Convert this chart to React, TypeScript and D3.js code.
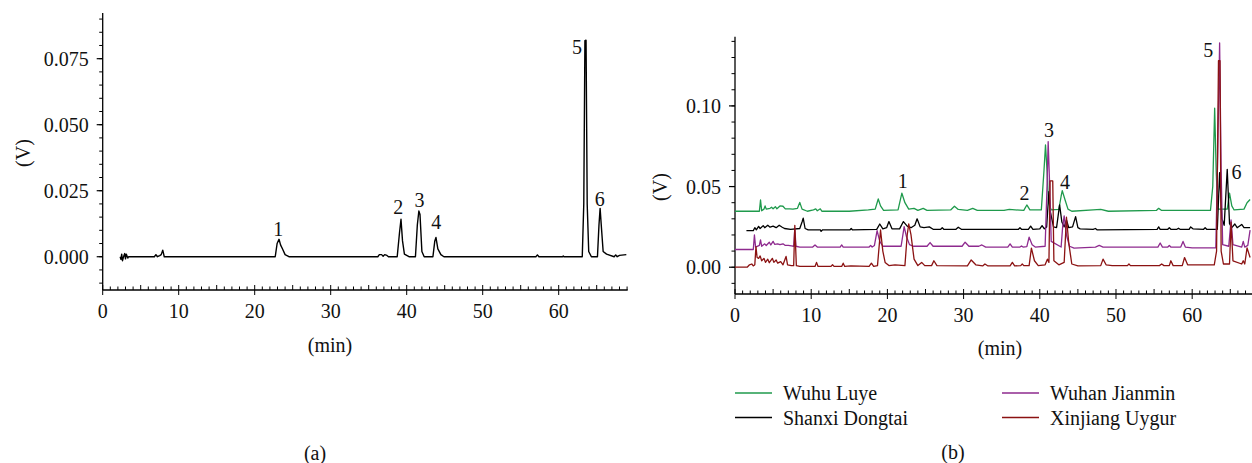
import React from "react";
import * as d3 from "d3";

type P = [number, number];

// ---------- Data (a) : reference standard chromatogram ----------
const standardSeries: P[] = [
  [2.3, 0], [2.4, -0.001], [2.5, 0.001], [2.6, -0.0015], [2.8, 0.0005], [2.9, 0.0012], [3.0, -0.0008], [3.1, 0.001], [3.3, -0.0005], [3.4, 0],
  [6.8, 0], [7.0, 0.0008], [7.2, 0], [7.5, 0.0004], [7.7, 0.0008], [7.9, 0.0025], [8.1, 0],
  [22.7, 0], [22.95, 0.005], [23.2, 0.0066], [23.4, 0.0045], [23.65, 0.003], [24.0, 0.0008], [24.5, 0],
  [36.2, 0], [36.4, 0.0008], [36.7, 0.0008], [36.9, 0.0002], [37.1, 0.0008], [37.4, 0.0005], [37.6, 0],
  [38.75, 0], [39.05, 0.009], [39.25, 0.0142], [39.45, 0.006], [39.7, 0.001], [40.0, 0.0005], [40.3, 0],
  [41.15, 0], [41.4, 0.012], [41.6, 0.0173], [41.75, 0.016], [42.0, 0.002], [42.3, 0],
  [43.45, 0], [43.7, 0.006], [43.85, 0.0073], [44.1, 0.003], [44.5, 0.0008], [44.9, 0],
  [57.0, 0], [57.2, 0.0007], [57.4, 0],
  [60.5, 0], [60.6, 0.0003], [60.7, 0],
  [63.1, 0], [63.3, 0.02], [63.45, 0.0818], [63.6, 0.082], [63.75, 0.02], [63.95, 0.002], [64.3, 0],
  [65.1, 0], [65.3, 0.012], [65.45, 0.0183], [65.6, 0.012], [65.85, 0.002], [66.3, 0.001], [67.3, 0], [67.5, 0.0007], [67.7, 0], [68.0, 0.0005], [68.9, 0.0008],
];
const standardLabels: { t: string; x: number; y: number }[] = [
  { t: "1", x: 23.1, y: 0.0105 },
  { t: "2", x: 38.9, y: 0.0187 },
  { t: "3", x: 41.7, y: 0.0215 },
  { t: "4", x: 43.9, y: 0.0132 },
  { t: "5", x: 62.4, y: 0.0793 },
  { t: "6", x: 65.4, y: 0.0218 },
];

// ---------- Data (b) : four samples ----------
const seriesNames = ["Wuhu Luye", "Shanxi Dongtai", "Wuhan Jianmin", "Xinjiang Uygur"];
const seriesColors = ["#1f9a4c", "#000000", "#8e2a8e", "#8b1212"];

const wuhuLuye: P[] = [
  [0, 0.0347], [3.2, 0.0347], [3.35, 0.0417], [3.5, 0.035], [3.8, 0.036], [3.95, 0.038], [4.1, 0.036], [4.6, 0.0365], [4.8, 0.0372], [5.0, 0.0362], [5.3, 0.0375], [5.5, 0.0362], [5.9, 0.038], [6.3, 0.0378], [6.6, 0.0362], [7.2, 0.0362], [7.6, 0.036], [8.2, 0.0365], [8.5, 0.0402], [8.8, 0.036], [9.5, 0.0347], [10.3, 0.0355], [10.6, 0.0362], [10.8, 0.035], [11.2, 0.0362], [11.4, 0.0347],
  [15.0, 0.0347], [17.5, 0.0355], [18.4, 0.036], [18.8, 0.0423], [19.1, 0.038], [19.5, 0.0352], [21.4, 0.0355], [21.9, 0.0459], [22.3, 0.04], [22.8, 0.036], [23.5, 0.0365], [24, 0.0352], [24.7, 0.0365], [25.2, 0.0352], [28.3, 0.0355], [28.8, 0.0378], [29.3, 0.0358], [30.5, 0.0352], [31.2, 0.0365], [31.8, 0.0352], [35.3, 0.0352], [36, 0.0358], [37.9, 0.0352], [38.3, 0.0386], [38.7, 0.0355], [40.2, 0.0355], [40.55, 0.06], [40.75, 0.0758], [40.95, 0.06], [41.15, 0.04], [41.5, 0.0355], [42.5, 0.0358], [42.8, 0.044], [42.95, 0.0475], [43.3, 0.042], [43.7, 0.036], [44.2, 0.0347],
  [47, 0.0355], [48, 0.0358], [49, 0.0347], [55.3, 0.0352], [55.6, 0.0365], [56, 0.0352], [62.4, 0.0352], [62.7, 0.05], [62.95, 0.0986], [63.15, 0.06], [63.35, 0.036], [64.6, 0.036], [64.9, 0.0459], [65.2, 0.038], [65.5, 0.0355], [66.8, 0.036], [67.2, 0.04], [67.6, 0.042],
];

const shanxiDongtai: P[] = [
  [1.5, 0.0227], [2.4, 0.0227], [2.6, 0.0245], [2.8, 0.0232], [3.1, 0.0253], [3.3, 0.024], [3.7, 0.0258], [3.9, 0.0245], [4.3, 0.026], [4.6, 0.0248], [5.0, 0.0255], [5.4, 0.0245], [5.8, 0.026], [6.2, 0.0248], [6.5, 0.024], [7.3, 0.0235], [8.5, 0.024], [8.8, 0.028], [8.95, 0.0304], [9.2, 0.024], [9.6, 0.0232], [11.2, 0.0232], [11.3, 0.0222], [11.5, 0.0232], [15.1, 0.0232], [15.25, 0.024], [15.4, 0.0232],
  [18.6, 0.0235], [19.0, 0.0268], [19.4, 0.0238], [19.9, 0.0245], [20.2, 0.0283], [20.6, 0.0238], [21.6, 0.0238], [22.1, 0.0283], [22.6, 0.0255], [23.1, 0.0245], [23.6, 0.026], [23.9, 0.03], [24.3, 0.025], [24.8, 0.0245], [25.5, 0.025], [26, 0.0235], [27, 0.0235], [27.2, 0.0245], [27.4, 0.0235], [29, 0.0235], [29.3, 0.0248], [29.7, 0.0235],
  [37.2, 0.0235], [37.4, 0.0245], [37.6, 0.0235], [38.5, 0.0235], [38.8, 0.0255], [39.1, 0.0235], [40.0, 0.0238], [40.3, 0.0258], [40.6, 0.0238], [40.9, 0.025], [41.2, 0.0469], [41.4, 0.034], [41.8, 0.025], [42.2, 0.0245], [42.6, 0.0386], [42.9, 0.028], [43.2, 0.025], [43.5, 0.0293], [43.8, 0.0245], [44.3, 0.025], [44.7, 0.0314], [45.0, 0.0245], [45.3, 0.0238],
  [47, 0.0235], [47.3, 0.024], [47.5, 0.0232], [55.4, 0.0235], [55.6, 0.025], [55.8, 0.0235], [56.8, 0.0235], [57, 0.0245], [57.2, 0.0235], [58, 0.0235], [58.2, 0.0242], [58.4, 0.0235], [59.6, 0.0235], [59.8, 0.025], [60.1, 0.0238], [61.5, 0.0235], [61.7, 0.0245], [61.9, 0.0235], [63.3, 0.0235], [63.6, 0.0587], [63.9, 0.03], [64.2, 0.026], [64.6, 0.0607], [64.9, 0.027], [65.2, 0.0245], [65.6, 0.0268], [65.9, 0.0245], [66.5, 0.0265], [66.8, 0.0245], [67.6, 0.0245],
];

const wuhanJianmin: P[] = [
  [0, 0.011], [2.4, 0.011], [2.55, 0.02], [2.7, 0.0125], [3.2, 0.0135], [3.35, 0.017], [3.5, 0.013], [3.9, 0.0145], [4.1, 0.0135], [4.5, 0.0155], [4.7, 0.0138], [5.0, 0.016], [5.2, 0.0142], [5.6, 0.0145], [5.9, 0.014], [6.3, 0.0145], [6.6, 0.0135], [7.0, 0.0135], [7.4, 0.0132], [7.7, 0.013], [7.85, 0.024], [8.0, 0.013], [8.5, 0.0125], [10.2, 0.0125], [10.5, 0.0138], [10.8, 0.0125], [13.8, 0.0125], [14.0, 0.0138], [14.2, 0.0125],
  [17.6, 0.0125], [17.8, 0.0135], [18.0, 0.0125], [18.3, 0.0135], [18.65, 0.0227], [19.0, 0.016], [19.4, 0.013], [21.8, 0.013], [22.2, 0.0252], [22.5, 0.019], [22.9, 0.014], [23.4, 0.013], [25.2, 0.013], [25.6, 0.0153], [26, 0.013], [29.8, 0.013], [30.2, 0.0155], [30.7, 0.013], [32.0, 0.013], [32.4, 0.0138], [32.9, 0.0125], [35.8, 0.0125], [36.1, 0.0145], [36.4, 0.0125], [37.4, 0.0125], [37.6, 0.0132], [37.8, 0.0125],
  [38.3, 0.0128], [38.6, 0.0186], [39.0, 0.014], [39.4, 0.0125], [40.7, 0.013], [40.95, 0.05], [41.1, 0.0779], [41.3, 0.05], [41.5, 0.016], [42.8, 0.0125], [43.0, 0.025], [43.2, 0.0318], [43.5, 0.02], [43.9, 0.013], [44.5, 0.0118],
  [47.3, 0.0125], [47.8, 0.0135], [48.3, 0.0125], [55.5, 0.0125], [55.8, 0.015], [56.1, 0.0125], [56.8, 0.0125], [57, 0.0135], [57.2, 0.0125], [58.5, 0.0125], [58.8, 0.016], [59.1, 0.0125], [60, 0.012], [63.1, 0.012], [63.35, 0.07], [63.6, 0.139], [63.8, 0.06], [64, 0.014], [64.8, 0.013], [65.1, 0.0293], [65.35, 0.014], [66.5, 0.0125], [66.7, 0.016], [66.9, 0.0125], [67.3, 0.0135], [67.6, 0.023],
];

const xinjiangUygur: P[] = [
  [0, 0], [1.6, 0], [1.9, 0.0015], [2.2, 0.002], [2.4, 0.0008], [2.6, 0.0015], [2.75, 0.0128], [2.9, 0.006], [3.1, 0.0055], [3.3, 0.007], [3.5, 0.004], [3.8, 0.0055], [4.0, 0.003], [4.3, 0.005], [4.5, 0.0028], [4.9, 0.0055], [5.1, 0.003], [5.4, 0.0045], [5.6, 0.0025], [6.0, 0.0035], [6.3, 0.0015], [6.7, 0.0067], [6.9, 0.0015], [7.4, 0.001], [7.7, 0.001], [7.85, 0.026], [8.05, 0.001], [8.5, 0.0005],
  [10.5, 0.0005], [10.7, 0.003], [10.9, 0.0005], [12.6, 0.0005], [12.8, 0.0015], [13, 0.0005], [14.0, 0.0005], [14.2, 0.0025], [14.4, 0.0005], [15.2, 0.0008], [17.6, 0.0005], [17.9, 0.0025], [18.2, 0.0005], [18.7, 0.001], [19.1, 0.0231], [19.4, 0.01], [19.7, 0.003], [20.2, 0.001], [21, 0.0015], [22.3, 0.001], [22.6, 0.02], [22.8, 0.0268], [23.1, 0.02], [23.5, 0.005], [24, 0.001], [24.5, 0.003], [24.9, 0.001], [25.8, 0.001], [26.1, 0.004], [26.5, 0.001],
  [30.5, 0.0008], [31, 0.0045], [31.6, 0.0015], [32.5, 0.0008], [32.8, 0.002], [33.2, 0.0008], [36.1, 0.0008], [36.4, 0.003], [36.7, 0.0008], [37.5, 0.001], [37.7, 0.002], [37.9, 0.001], [38.6, 0.001], [38.9, 0.0118], [39.3, 0.004], [39.8, 0.001], [40.7, 0.0015], [41.0, 0.005], [41.2, 0.003], [41.35, 0.0535], [41.7, 0.0535], [41.85, 0.004], [42.5, 0.0015], [43.2, 0.003], [43.5, 0.031], [43.8, 0.015], [44.2, 0.002], [45, 0.0008],
  [48, 0.001], [48.3, 0.005], [48.7, 0.0015], [49.5, 0.001], [51.5, 0.001], [51.7, 0.002], [51.9, 0.001], [55.7, 0.001], [56, 0.002], [56.3, 0.001], [57, 0.001], [57.2, 0.004], [57.5, 0.001], [58.7, 0.001], [59, 0.006], [59.4, 0.0015], [62.9, 0.0015], [63.2, 0.01], [63.45, 0.128], [63.65, 0.128], [63.8, 0.01], [64.1, 0.002], [64.9, 0.002], [65.1, 0.028], [65.35, 0.004], [66.5, 0.002], [66.7, 0.004], [66.9, 0.002], [67.2, 0.012], [67.6, 0.006],
];
const sampleSeries: P[][] = [wuhuLuye, shanxiDongtai, wuhanJianmin, xinjiangUygur];
const sampleLabels: { t: string; x: number; y: number }[] = [
  { t: "1", x: 22.0, y: 0.0532 },
  { t: "2", x: 38.0, y: 0.0457 },
  { t: "3", x: 41.2, y: 0.0848 },
  { t: "4", x: 43.3, y: 0.0528 },
  { t: "5", x: 62.1, y: 0.1344 },
  { t: "6", x: 65.8, y: 0.0593 },
];

const xTicks = [0, 10, 20, 30, 40, 50, 60];
const yTicksA = [0, 0.025, 0.05, 0.075];
const yTicksB = [0, 0.05, 0.1];

const FONT = "'Liberation Serif', 'Times New Roman', serif";

function Axes(props: {
  x: d3.ScaleLinear<number, number>;
  y: d3.ScaleLinear<number, number>;
  yMajor: number[];
  yFmt: (v: number) => string;
  yMinorStep: number;
}) {
  const { x, y, yMajor, yFmt, yMinorStep } = props;
  const [x0, x1] = x.range();
  const [yb, yt] = y.range();
  const [d0, d1] = y.domain();
  const yMinor: number[] = [];
  for (let v = Math.ceil(d0 / yMinorStep) * yMinorStep; v <= d1 + 1e-9; v += yMinorStep) yMinor.push(+v.toFixed(4));
  const xd = x.domain();
  const xMinor: number[] = [];
  for (let v = 0; v <= xd[1] + 1e-9; v += 1) xMinor.push(v);
  return (
    <g stroke="#000" fill="none">
      <line x1={x0} x2={x0} y1={yt} y2={yb} strokeWidth={1.3} />
      <line x1={x0} x2={x1} y1={yb} y2={yb} strokeWidth={1.3} />
      {yMinor.map((v, i) => (
        <line key={"ym" + i} x1={x0 - 3.5} x2={x0} y1={y(v)} y2={y(v)} strokeWidth={1} />
      ))}
      {yMajor.map((v, i) => (
        <line key={"yM" + i} x1={x0 - 6} x2={x0} y1={y(v)} y2={y(v)} strokeWidth={1.2} />
      ))}
      {yMajor.map((v, i) => (
        <text key={"yl" + i} x={x0 - 14} y={y(v)} dy="0.35em" textAnchor="end" stroke="none" fill="#111" fontFamily={FONT} fontSize={20}>
          {yFmt(v)}
        </text>
      ))}
      {xMinor.map((v, i) => (
        <line key={"xm" + i} x1={x(v)} x2={x(v)} y1={yb - (v % 5 === 0 ? 5 : 3.5)} y2={yb + (v % 10 === 0 ? 5 : 0)} strokeWidth={1} />
      ))}
      {xTicks.map((v, i) => (
        <text key={"xl" + i} x={x(v)} y={yb + 28} textAnchor="middle" stroke="none" fill="#111" fontFamily={FONT} fontSize={20}>
          {v}
        </text>
      ))}
    </g>
  );
}

export default function App() {
  // Chart (a)
  const xa = d3.scaleLinear().domain([0, 69.08]).range([102.7, 627.7]);
  const ya = d3.scaleLinear().domain([-0.0126, 0.0923]).range([290, 13]);
  // Chart (b)
  const xb = d3.scaleLinear().domain([0, 67.85]).range([735, 1252]);
  const yb = d3.scaleLinear().domain([-0.0166, 0.1429]).range([294, 36.7]);

  const lineA = d3.line<P>().x((d) => xa(d[0])).y((d) => ya(d[1]));
  const lineB = d3.line<P>().x((d) => xb(d[0])).y((d) => yb(d[1]));

  const txt = { fontFamily: FONT, fontSize: 20, fill: "#111" } as const;

  return (
    <svg width={1252} height={463} style={{ position: "absolute", left: 0, top: 0, background: "#fff" }}>
      <rect x={0} y={0} width={1252} height={463} fill="#fff" />
      {/* ---- (a) ---- */}
      <Axes x={xa} y={ya} yMajor={yTicksA} yFmt={d3.format(".3f")} yMinorStep={0.005} />
      <path d={lineA(standardSeries) || ""} fill="none" stroke="#000" strokeWidth={1.4} strokeLinejoin="round" />
      {standardLabels.map((l, i) => (
        <text key={"la" + i} x={xa(l.x)} y={ya(l.y)} dy="0.35em" textAnchor="middle" {...txt}>
          {l.t}
        </text>
      ))}
      <text transform={`translate(23,153) rotate(-90)`} dy="0.35em" textAnchor="middle" {...txt}>(V)</text>
      <text x={330} y={345} dy="0.35em" textAnchor="middle" {...txt}>(min)</text>
      <text x={315} y={453} dy="0.35em" textAnchor="middle" {...txt}>(a)</text>

      {/* ---- (b) ---- */}
      <Axes x={xb} y={yb} yMajor={yTicksB} yFmt={d3.format(".2f")} yMinorStep={0.01} />
      {sampleSeries.map((s, i) => (
        <path key={"sb" + i} d={lineB(s) || ""} fill="none" stroke={seriesColors[i]} strokeWidth={1.3} strokeLinejoin="round" />
      ))}
      {sampleLabels.map((l, i) => (
        <text key={"lb" + i} x={xb(l.x)} y={yb(l.y)} dy="0.35em" textAnchor="middle" {...txt}>
          {l.t}
        </text>
      ))}
      <text transform={`translate(660,187) rotate(-90)`} dy="0.35em" textAnchor="middle" {...txt}>(V)</text>
      <text x={1000} y={348} dy="0.35em" textAnchor="middle" {...txt}>(min)</text>
      <text x={953} y={452} dy="0.35em" textAnchor="middle" {...txt}>(b)</text>

      {/* legend */}
      {seriesNames.map((n, i) => {
        const col = i === 0 || i === 1 ? 0 : 1;
        const row = i === 0 || i === 2 ? 0 : 1;
        const lx = col === 0 ? 735 : 1002;
        const ly = 393 + row * 24.5;
        return (
          <g key={"lg" + i}>
            <line x1={lx} x2={lx + 37} y1={ly} y2={ly} stroke={seriesColors[i]} strokeWidth={1.5} />
            <text x={lx + 48} y={ly} dy="0.35em" {...txt}>{n}</text>
          </g>
        );
      })}
    </svg>
  );
}
